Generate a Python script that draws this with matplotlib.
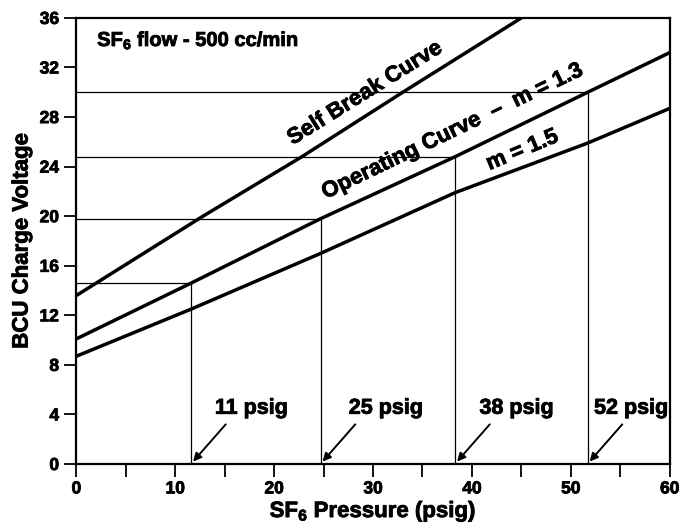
import numpy as np
import matplotlib
matplotlib.use('Agg')
import matplotlib.pyplot as plt
import matplotlib.patheffects as pe
from matplotlib.ticker import MultipleLocator

plt.rcParams['font.family'] = ['Liberation Sans', 'DejaVu Sans']
plt.rcParams['font.weight'] = 'bold'
plt.rcParams['axes.labelweight'] = 'bold'
plt.rcParams['mathtext.fontset'] = 'custom'
plt.rcParams['mathtext.rm'] = 'Liberation Sans:bold'
plt.rcParams['mathtext.it'] = 'Liberation Sans:bold'
plt.rcParams['mathtext.bf'] = 'Liberation Sans:bold'
plt.rcParams['mathtext.default'] = 'rm'

# curve data (pressure psig -> BCU charge voltage)
self_break_p = [0, 12.8, 22.8, 33, 45]
self_break_v = [13.6, 20.0, 24.8, 30.0, 36.0]

op13_p = [0, 11.6, 24.7, 38.3, 51.7, 60]
op13_v = [10.1, 14.6, 19.8, 24.8, 30.0, 33.2]

op15_p = [0, 11.6, 24.7, 38.3, 51.7, 60]
op15_v = [8.7, 12.5, 17.0, 21.9, 25.9, 28.7]

# operating points and their labels
op_pressure = [11.6, 24.7, 38.3, 51.7]
op_voltage = [14.6, 19.8, 24.8, 30.0]
op_labels = ['11 psig', '25 psig', '38 psig', '52 psig']
label_x = [17.7, 31.3, 44.5, 56.1]

heavy = [pe.withStroke(linewidth=0.6, foreground='black')]

fig = plt.figure(figsize=(6.82, 5.27), dpi=100)
ax = fig.add_axes([0.112, 0.1195, 0.87, 0.8465])
ax.set_xlim(0, 60)
ax.set_ylim(0, 36)

# drop lines from operating points
for p, v in zip(op_pressure, op_voltage):
    ax.plot([0, p], [v, v], color='black', lw=0.9)
    ax.plot([p, p], [0, v], color='black', lw=0.9)

ax.plot(self_break_p, self_break_v, color='black', lw=2.5, solid_capstyle='butt')
ax.plot(op13_p, op13_v, color='black', lw=2.5, solid_capstyle='butt')
ax.plot(op15_p, op15_v, color='black', lw=2.5, solid_capstyle='butt')


def line_angle(px, py):
    a = ax.transData.transform((px[0], py[0]))
    b = ax.transData.transform((px[-1], py[-1]))
    return np.degrees(np.arctan2(b[1] - a[1], b[0] - a[0]))


ax.text(29.2, 29.9, 'Self Break Curve', rotation=line_angle(self_break_p, self_break_v),
        ha='center', va='center', fontsize=16, rotation_mode='anchor', path_effects=heavy)
ax.text(38.0, 26.8, 'Operating Curve  \u2013  m = 1.3', rotation=line_angle(op13_p, op13_v),
        ha='center', va='center', fontsize=16, rotation_mode='anchor', path_effects=heavy)
ax.text(45.1, 25.3, 'm = 1.5', rotation=line_angle(op15_p, op15_v),
        ha='center', va='center', fontsize=16, rotation_mode='anchor', path_effects=heavy)

ax.text(2.1, 34.2, r'SF$_6$ flow - 500 cc/min', ha='left', va='center', fontsize=14.5,
        path_effects=heavy)

for p, lx, lab in zip(op_pressure, label_x, op_labels):
    ax.annotate('', xy=(p + 0.2, 0.2), xytext=(p + 3.5, 3.2),
                arrowprops=dict(arrowstyle='-|>', color='black', lw=1.4, mutation_scale=12,
                                shrinkA=0, shrinkB=0))
    ax.text(lx, 4.5, lab, ha='center', va='center', fontsize=15.5, path_effects=heavy)

ax.xaxis.set_major_locator(MultipleLocator(10))
ax.xaxis.set_minor_locator(MultipleLocator(5))
ax.yaxis.set_major_locator(MultipleLocator(4))
ax.tick_params(axis='both', which='both', direction='out', length=9, width=1.3,
               labelsize=12.5)
for lab in ax.get_xticklabels() + ax.get_yticklabels():
    lab.set_fontweight('bold')
    lab.set_path_effects(heavy)
for s in ax.spines.values():
    s.set_linewidth(1.6)

ax.set_xlabel(r'SF$_6$ Pressure (psig)', fontsize=16, fontweight='bold', labelpad=2,
              path_effects=heavy)
ax.set_ylabel('BCU Charge Voltage', fontsize=16, fontweight='bold', labelpad=5,
              path_effects=heavy)

fig.savefig('out.png', dpi=100)
